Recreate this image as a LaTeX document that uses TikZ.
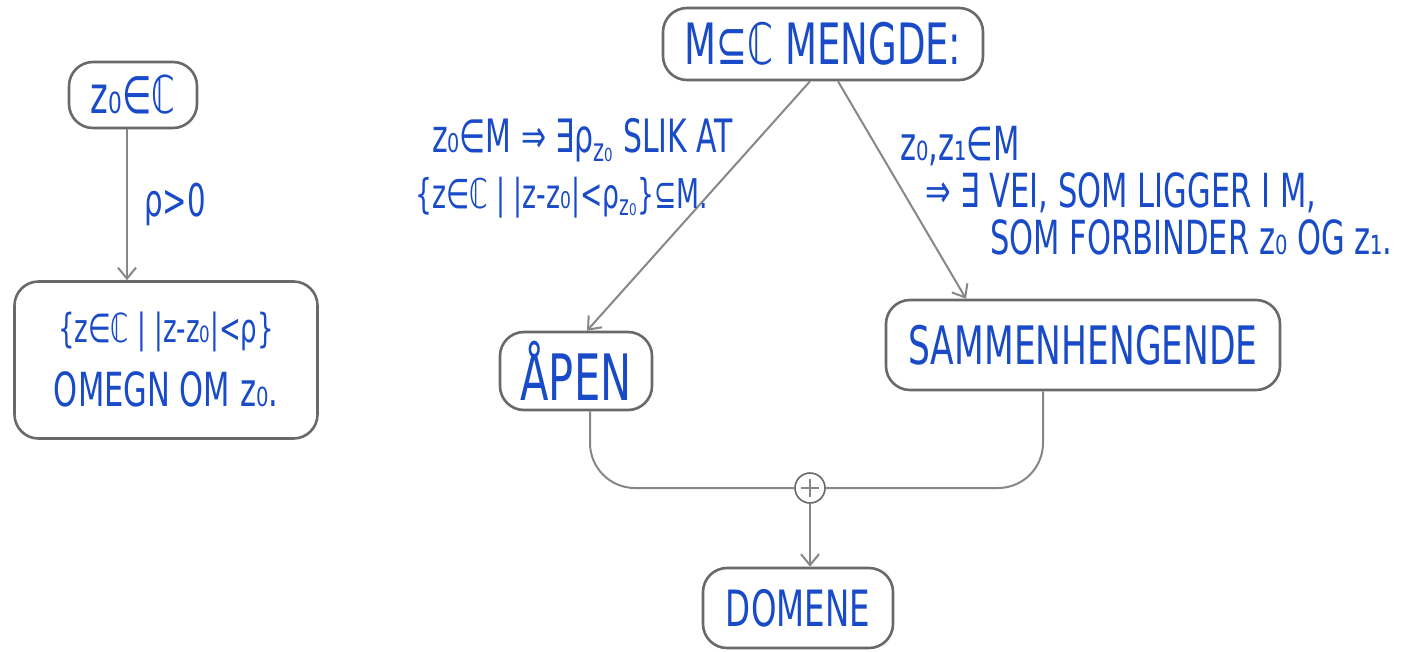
\documentclass[tikz,border=0pt]{standalone}
\usepackage{fontspec}
\newfontfamily\hand[FakeStretch=0.65]{DejaVu Sans}
\usetikzlibrary{arrows.meta}
\definecolor{ink}{RGB}{25,75,200}
\definecolor{lineg}{RGB}{135,135,135}
\definecolor{boxg}{RGB}{105,105,105}
\newcommand{\hsz}[2]{\fontsize{#1}{#2}\selectfont}
\tikzset{
 box/.style={draw=boxg, line width=2.6pt, rounded corners=24pt, fill=white, text=ink, inner sep=0pt, align=center},
 conn/.style={draw=lineg, line width=2pt},
 arr/.style={conn, -{Straight Barb[length=11pt,width=18pt,line width=2pt]}},
 lbl/.style={text=ink, inner sep=0pt, align=left},
}
\begin{document}
\begin{tikzpicture}[x=1pt,y=-1pt]
\useasboundingbox (0,0) rectangle (1415,651);
% left part
\node[box, minimum width=128, minimum height=66, font=\hand\hsz{52}{60}] (z0) at (133,95) {z₀∈ℂ};
\node[box, minimum width=303, minimum height=157, font=\hand\hsz{40}{64}] (omegn) at (166,360) {\{z∈ℂ | |z-z₀|<ρ\}\\{\hsz{47}{64}OMEGN OM z₀.}};
\draw[arr] ([xshift=-6pt]z0.south) -- ([xshift=-39pt]omegn.north) node[midway, right=16pt, lbl, font=\hand\hsz{45}{50}] (rho) {ρ>0};
% right part
\node[box, minimum width=320, minimum height=72, font=\hand\hsz{57}{64}] (mengde) at (823,44) {M⊆ℂ MENGDE:};
\node[box, minimum width=152, minimum height=78, font=\hand\hsz{64}{70}] (apen) at (576,371) {ÅPEN};
\node[box, minimum width=394, minimum height=90, font=\hand\hsz{53}{60}] (samm) at (1083,345) {SAMMENHENGENDE};
\node[box, minimum width=190, minimum height=80, font=\hand\hsz{50}{58}] (domene) at (798,608) {DOMENE};
\node[draw=boxg, line width=1.6pt, circle, minimum size=30pt, inner sep=0pt, fill=white,
  path picture={\draw[lineg, line width=1.6pt] ([xshift=-9pt]path picture bounding box.center) -- ([xshift=9pt]path picture bounding box.center) ([yshift=-9pt]path picture bounding box.center) -- ([yshift=9pt]path picture bounding box.center);}] (plus) at (810,488) {};
\draw[arr] ([xshift=-13pt]mengde.south) -- ([xshift=11pt]apen.north);
\draw[arr] ([xshift=15pt]mengde.south) -- ([xshift=-117pt]samm.north);
\draw[conn, rounded corners=45pt] ([xshift=14pt]apen.south) |- (plus.west);
\draw[conn, rounded corners=45pt] ([xshift=-40pt]samm.south) |- (plus.east);
\draw[arr] (plus.south) -- (plus.south |- domene.north);
\node[lbl, anchor=north west, font=\hand\hsz{46}{56}] (lopen) at (415,118) {\hspace{17pt}z₀∈M ⇒ ∃ρ\textsubscript{z₀} SLIK AT\\{\hsz{41}{56}\{z∈ℂ | |z-z₀|<ρ\textsubscript{z₀}\}⊆M.}};
\node[lbl, anchor=north west, font=\hand\hsz{47}{47}] (lsamm) at (900,126) {z₀,z₁∈M\\\hspace{25pt}⇒ ∃ VEI, SOM LIGGER I M,\\\hspace{90pt}SOM FORBINDER z₀ OG z₁.};
\end{tikzpicture}
\end{document}
